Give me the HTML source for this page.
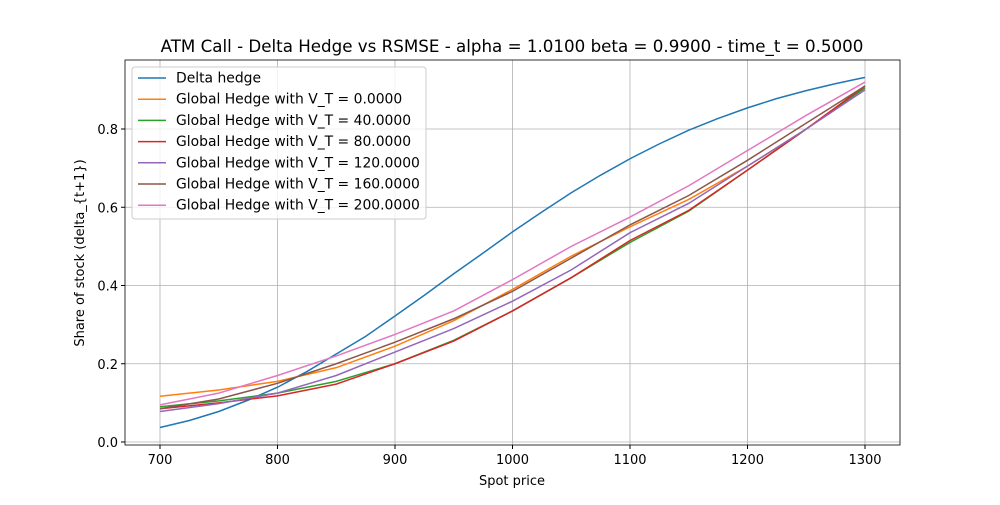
<!DOCTYPE html>
<html><head><meta charset="utf-8"><style>
body{margin:0;background:#fff;}
svg text{font-family:"DejaVu Sans","Liberation Sans",sans-serif;}
</style></head><body>
<svg id="chart" width="1000" height="500" xmlns="http://www.w3.org/2000/svg"></svg>
<script>
const xDelta=[700,725,750,775,800,825,850,875,900,925,950,975,1000,1025,1050,1075,1100,1125,1150,1175,1200,1225,1250,1275,1300];
const deltaHedge=[0.037,0.055,0.078,0.107,0.14,0.18,0.225,0.27,0.322,0.375,0.43,0.483,0.537,0.588,0.637,0.682,0.724,0.762,0.797,0.827,0.854,0.878,0.898,0.916,0.932];
const xGlobal=[700,750,800,850,900,950,1000,1050,1100,1150,1200,1250,1300];
const gh0=[0.117,0.133,0.155,0.19,0.245,0.31,0.39,0.475,0.55,0.62,0.705,0.8,0.905];
const gh40=[0.09,0.105,0.125,0.155,0.2,0.26,0.335,0.42,0.51,0.59,0.695,0.8,0.905];
const gh80=[0.085,0.1,0.118,0.148,0.2,0.258,0.335,0.42,0.515,0.592,0.695,0.8,0.91];
const gh120=[0.078,0.098,0.125,0.17,0.23,0.29,0.36,0.44,0.535,0.61,0.705,0.8,0.9];
const gh160=[0.085,0.11,0.15,0.2,0.255,0.315,0.385,0.47,0.555,0.63,0.72,0.815,0.91];
const gh200=[0.095,0.125,0.17,0.22,0.275,0.335,0.415,0.5,0.575,0.655,0.745,0.835,0.92];
const seriesNames=["Delta hedge","Global Hedge with V_T = 0.0000","Global Hedge with V_T = 40.0000","Global Hedge with V_T = 80.0000","Global Hedge with V_T = 120.0000","Global Hedge with V_T = 160.0000","Global Hedge with V_T = 200.0000"];
const xTicks=[700,800,900,1000,1100,1200,1300];
const yTicks=[0.0,0.2,0.4,0.6,0.8];

const NS="http://www.w3.org/2000/svg";
const svg=document.getElementById('chart');
const L=125,R=900,T=60,B=445;
const X=v=>160+(v-700)*(705/600);
const Y=v=>442-v*(313/0.8);
function mk(tag,attrs,parent){const e=document.createElementNS(NS,tag);for(const k in attrs)e.setAttribute(k,attrs[k]);(parent||svg).appendChild(e);return e;}
const colors=["#1f77b4","#ff7f0e","#2ca02c","#d62728","#9467bd","#8c564b","#e377c2"];

let t=mk('text',{x:512,y:52,'font-size':16.7,'text-anchor':'middle'});t.textContent="ATM Call - Delta Hedge vs RSMSE - alpha = 1.0100 beta = 0.9900 - time_t = 0.5000";


xTicks.forEach(v=>{
 const g=mk('line',{x1:X(v),x2:X(v),y1:T,y2:B,stroke:'#b0b0b0','stroke-width':0.8});
 
 mk('line',{x1:X(v),x2:X(v),y1:B,y2:B+4,stroke:'#000'});
 const l=mk('text',{x:X(v),y:B+19,'font-size':13,'text-anchor':'middle'});l.textContent=v;
 
});
yTicks.forEach(v=>{
 const g=mk('line',{x1:L,x2:R,y1:Y(v),y2:Y(v),stroke:'#b0b0b0','stroke-width':0.8});
 
 mk('line',{x1:L-4,x2:L,y1:Y(v),y2:Y(v),stroke:'#000'});
 const l=mk('text',{x:L-7,y:Y(v)+5,'font-size':13,'text-anchor':'end'});l.textContent=v.toFixed(1);
 
});
const data=[[xDelta,deltaHedge],[xGlobal,gh0],[xGlobal,gh40],[xGlobal,gh80],[xGlobal,gh120],[xGlobal,gh160],[xGlobal,gh200]];
data.forEach((d,i)=>{
 const p=mk('polyline',{points:d[0].map((x,j)=>X(x)+','+Y(d[1][j])).join(' '),fill:'none',stroke:colors[i],'stroke-width':1.5});
 
});
const fr=mk('rect',{x:L,y:T,width:R-L,height:B-T,fill:'none',stroke:'#000','stroke-width':0.8});


let xl=mk('text',{x:512,y:485,'font-size':13,'text-anchor':'middle'});xl.textContent="Spot price";

let yl=mk('text',{x:0,y:0,'font-size':13,'text-anchor':'middle',transform:'translate(84,253) rotate(-90)'});yl.textContent="Share of stock (delta_{t+1})";


const lg=mk('g',{});

mk('rect',{x:132,y:67,width:294,height:152,rx:3,fill:'#fff','fill-opacity':0.8,stroke:'#ccc'},lg);
seriesNames.forEach((n,i)=>{
 const y=78+i*21.2;
 const e=mk('g',{},lg);
 
 mk('line',{x1:138,x2:166,y1:y,y2:y,stroke:colors[i],'stroke-width':1.5},e);
 const tx=mk('text',{x:176,y:y+4.5,'font-size':13.9},e);tx.textContent=n;
});
</script>
</body></html>
